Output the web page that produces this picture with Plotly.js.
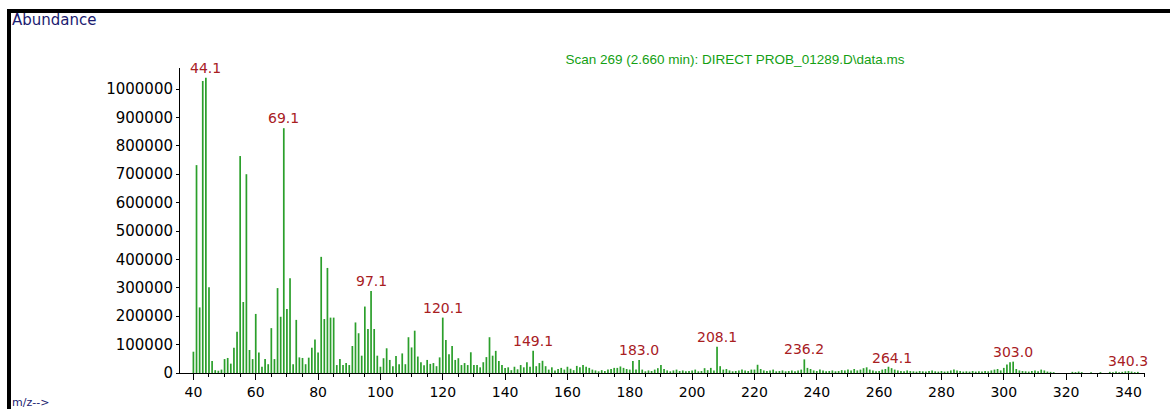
<!DOCTYPE html>
<html>
<head>
<meta charset="utf-8">
<script src="https://cdn.plot.ly/plotly-3.0.1.min.js"></script>
<style>
  html, body { margin: 0; padding: 0; background: #ffffff; }
  #wrap { position: relative; width: 1170px; height: 409px; overflow: hidden; }
  #chart { width: 1170px; height: 409px; }
  .bar { position: absolute; background: #000; pointer-events: none; }
</style>
</head>
<body>
<div id="wrap">
  <div id="chart"></div>
  <div class="bar" style="left:7px; top:9px; width:1163px; height:4px;"></div>
  <div class="bar" style="left:7px; top:9px; width:4px; height:400px;"></div>
</div>
<script>
// m/z values (one bar per integer mass)
const mz = [
  40, 41, 42, 43, 44, 45, 46, 47, 48, 49,
  50, 51, 52, 53, 54, 55, 56, 57, 58, 59,
  60, 61, 62, 63, 64, 65, 66, 67, 68, 69,
  70, 71, 72, 73, 74, 75, 76, 77, 78, 79,
  80, 81, 82, 83, 84, 85, 86, 87, 88, 89,
  90, 91, 92, 93, 94, 95, 96, 97, 98, 99,
  100, 101, 102, 103, 104, 105, 106, 107, 108, 109,
  110, 111, 112, 113, 114, 115, 116, 117, 118, 119,
  120, 121, 122, 123, 124, 125, 126, 127, 128, 129,
  130, 131, 132, 133, 134, 135, 136, 137, 138, 139,
  140, 141, 142, 143, 144, 145, 146, 147, 148, 149,
  150, 151, 152, 153, 154, 155, 156, 157, 158, 159,
  160, 161, 162, 163, 164, 165, 166, 167, 168, 169,
  170, 171, 172, 173, 174, 175, 176, 177, 178, 179,
  180, 181, 182, 183, 184, 185, 186, 187, 188, 189,
  190, 191, 192, 193, 194, 195, 196, 197, 198, 199,
  200, 201, 202, 203, 204, 205, 206, 207, 208, 209,
  210, 211, 212, 213, 214, 215, 216, 217, 218, 219,
  220, 221, 222, 223, 224, 225, 226, 227, 228, 229,
  230, 231, 232, 233, 234, 235, 236, 237, 238, 239,
  240, 241, 242, 243, 244, 245, 246, 247, 248, 249,
  250, 251, 252, 253, 254, 255, 256, 257, 258, 259,
  260, 261, 262, 263, 264, 265, 266, 267, 268, 269,
  270, 271, 272, 273, 274, 275, 276, 277, 278, 279,
  280, 281, 282, 283, 284, 285, 286, 287, 288, 289,
  290, 291, 292, 293, 294, 295, 296, 297, 298, 299,
  300, 301, 302, 303, 304, 305, 306, 307, 308, 309,
  310, 311, 312, 313, 314, 315, 316, 317, 318, 319,
  320, 321, 322, 323, 324, 325, 326, 327, 328, 329,
  330, 331, 332, 333, 334, 335, 336, 337, 338, 339,
  340, 341, 342, 343, 344, 345
];

// abundance
const abundance = [
  75000, 732000, 231000, 1028000, 1040000, 302000, 42000, 10000, 8000, 12000,
  49000, 53000, 33000, 89000, 145000, 764000, 250000, 700000, 81000, 49000,
  208000, 72000, 22000, 49000, 31000, 158000, 49000, 299000, 198000, 862000,
  225000, 334000, 31000, 187000, 55000, 53000, 31000, 54000, 89000, 118000,
  72000, 409000, 190000, 370000, 195000, 195000, 28000, 49000, 28000, 35000,
  28000, 95000, 178000, 140000, 61000, 234000, 155000, 289000, 155000, 61000,
  22000, 52000, 87000, 46000, 24000, 60000, 31000, 69000, 31000, 126000,
  90000, 149000, 58000, 38000, 27000, 46000, 32000, 35000, 24000, 55000,
  195000, 116000, 66000, 95000, 46000, 52000, 28000, 35000, 28000, 73000,
  28000, 28000, 20000, 38000, 56000, 126000, 61000, 78000, 42000, 28000,
  18000, 20000, 10000, 22000, 13000, 28000, 20000, 38000, 22000, 78000,
  24000, 35000, 43000, 24000, 12000, 20000, 9000, 14000, 18000, 12000,
  22000, 15000, 10000, 25000, 20000, 28000, 22000, 18000, 12000, 9000,
  6000, 10000, 7000, 12000, 14000, 18000, 18000, 23000, 18000, 14000,
  12000, 42000, 12000, 46000, 12000, 6000, 9000, 7000, 12000, 17000,
  28000, 14000, 9000, 6000, 9000, 12000, 7000, 9000, 6000, 7000,
  9000, 12000, 6000, 7000, 17000, 10000, 18000, 9000, 92000, 24000,
  12000, 14000, 9000, 6000, 7000, 9000, 12000, 9000, 7000, 12000,
  12000, 29000, 14000, 9000, 7000, 9000, 12000, 6000, 7000, 9000,
  6000, 7000, 9000, 6000, 9000, 12000, 48000, 18000, 14000, 9000,
  7000, 12000, 9000, 6000, 7000, 9000, 6000, 7000, 10000, 9000,
  12000, 9000, 14000, 9000, 12000, 17000, 20000, 12000, 9000, 6000,
  7000, 12000, 14000, 22000, 17000, 12000, 9000, 7000, 6000, 9000,
  7000, 6000, 5000, 7000, 6000, 5000, 7000, 9000, 6000, 5000,
  7000, 5000, 6000, 9000, 12000, 9000, 7000, 5000, 6000, 5000,
  7000, 5000, 6000, 5000, 7000, 6000, 9000, 12000, 14000, 9000,
  18000, 30000, 38000, 40000, 14000, 9000, 7000, 6000, 5000, 7000,
  9000, 6000, 12000, 9000, 5000, 4000, 3000, 0, 0, 0,
  0, 0, 4000, 3000, 5000, 3000, 0, 0, 3000, 0,
  0, 3000, 0, 0, 4000, 3000, 5000, 3000, 4000, 6000,
  7000, 5000, 3000, 4000, 0, 0
];

// labelled peaks
const peakMz = [44, 69, 97, 120, 149, 183, 208, 236, 264, 303, 340];
const peakLabels = ['44.1', '69.1', '97.1', '120.1', '149.1', '183.0', '208.1', '236.2', '264.1', '303.0', '340.3'];

// axis ticks
const yTickVals = [0, 100000, 200000, 300000, 400000, 500000, 600000, 700000, 800000, 900000, 1000000];
const yTickText = ['0', '100000', '200000', '300000', '400000', '500000', '600000', '700000', '800000', '900000', '1000000'];
const xTickVals = [40, 60, 80, 100, 120, 140, 160, 180, 200, 220, 240, 260, 280, 300, 320, 340];

const titleText = 'Scan 269 (2.660 min): DIRECT PROB_01289.D\\data.ms';

const trace = {
  type: 'bar',
  x: mz,
  y: abundance,
  width: 0.55,
  marker: { color: '#2b9f2b', line: { width: 0 } },
  hoverinfo: 'x+y'
};

const annotations = peakMz.map((m, i) => ({
  x: m,
  y: abundance[mz.indexOf(m)],
  xref: 'x', yref: 'y',
  text: peakLabels[i],
  showarrow: false,
  xanchor: 'center',
  yanchor: 'bottom',
  yshift: 0,
  font: { family: 'DejaVu Sans, Arial', size: 14, color: '#a8201f' }
}));

// axis-corner labels
annotations.push({
  xref: 'paper', yref: 'paper',
  x: (10 - 180) / 965, y: (373 - 9) / 305,
  xanchor: 'left', yanchor: 'top',
  text: 'Abundance', showarrow: false,
  font: { family: 'DejaVu Sans, Arial', size: 15, color: '#1b1b70' }
});
annotations.push({
  xref: 'paper', yref: 'paper',
  x: (10 - 180) / 965, y: (373 - 394) / 305,
  xanchor: 'left', yanchor: 'top',
  text: 'm/z-->', showarrow: false,
  font: { family: 'DejaVu Sans, Arial', size: 11, color: '#1b1b70' }
});

const layout = {
  width: 1170,
  height: 409,
  margin: { l: 180, r: 25, t: 68, b: 36, pad: 0 },
  paper_bgcolor: '#ffffff',
  plot_bgcolor: '#ffffff',
  showlegend: false,
  title: {
    text: titleText,
    x: 735 / 1170, xanchor: 'center', xref: 'container',
    y: 1 - 59 / 409, yanchor: 'middle', yref: 'container',
    font: { family: 'Liberation Sans, Arial', size: 13.5, color: '#13a013' }
  },
  xaxis: {
    range: [35.7, 345.3],
    showgrid: false, zeroline: false,
    showline: true, linecolor: '#000', linewidth: 1,
    ticks: 'outside', ticklen: 6, tickcolor: '#000', tickwidth: 1,
    tickmode: 'array', tickvals: xTickVals,
    minor: { dtick: 5, tick0: 40, ticks: 'outside', ticklen: 3, tickcolor: '#000', showgrid: false },
    tickfont: { family: 'DejaVu Sans, Arial', size: 14, color: '#000' }
  },
  yaxis: {
    range: [0, 1074000],
    showgrid: false, zeroline: false,
    showline: true, linecolor: '#000', linewidth: 1,
    ticks: 'outside', ticklen: 3, tickcolor: '#000',
    tickmode: 'array', tickvals: yTickVals, ticktext: yTickText,
    tickfont: { family: 'DejaVu Sans, Arial', size: 15, color: '#000' }
  },
  annotations: annotations
};

Plotly.newPlot('chart', [trace], layout, { displayModeBar: false, staticPlot: true });
</script>
</body>
</html>
